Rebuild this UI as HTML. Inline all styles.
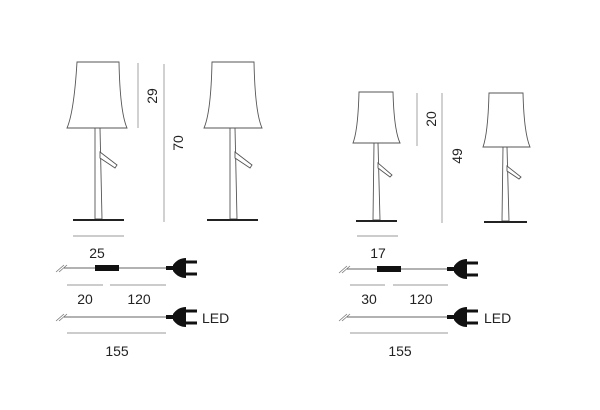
<!DOCTYPE html>
<html><head><meta charset="utf-8"><style>
html,body{margin:0;padding:0;background:#fff;}
svg{display:block;font-family:"Liberation Sans",sans-serif;}
</style></head><body>
<svg width="600" height="410" viewBox="0 0 600 410" xmlns="http://www.w3.org/2000/svg">
<defs>
<g id="plug">
<rect x="-2" y="-2" width="8" height="4" fill="#111"/>
<path d="M5,-3 Q10,-10 18,-10 L18,10 Q10,10 5,3 Z" fill="#111"/>
<rect x="17" y="-7.5" width="12" height="3" fill="#111"/>
<rect x="17" y="4.5" width="12" height="3" fill="#111"/>
</g>
<g id="hatch" stroke="#777" stroke-width="0.8">
<line x1="0" y1="4" x2="8" y2="-3"/><line x1="3" y1="4" x2="11" y2="-3"/>
</g>
</defs>
<g fill="#fff" stroke="#555" stroke-width="0.9">
<path d="M77,62 L119,62 Q120,112 127,128 L67,128 Q74,112 77,62 Z"/>
<path d="M95,128 L100,128 L102,219 L95,219 Z"/>
<path d="M100,152 L117,165 L115,168 L100,158 Z"/>
<path d="M212,62 L254,62 Q255,112 262,128 L204,128 Q211,112 212,62 Z"/>
<path d="M230,128 L235,128 L237,219 L230,219 Z"/>
<path d="M235,152 L252,165 L250,168 L235,158 Z"/>
<path d="M359,92 L393,92 Q394,130 400,143 L353,143 Q358,130 359,92 Z"/>
<path d="M374,143 L378,143 L380,220 L373,220 Z"/>
<path d="M378,163 L392,175 L390,177 L378,168 Z"/>
<path d="M489,93 L523,93 Q524,133 530,147 L483,147 Q488,133 489,93 Z"/>
<path d="M503,147 L507,147 L509,221 L502,221 Z"/>
<path d="M507,166 L521,177 L519,179 L507,171 Z"/>
</g>
<g stroke="#222" stroke-width="2">
<line x1="73" y1="220" x2="124" y2="220"/>
<line x1="207" y1="220" x2="258" y2="220"/>
<line x1="356" y1="221" x2="397" y2="221"/>
<line x1="484" y1="222" x2="527" y2="222"/>
</g>
<g stroke="#999" stroke-width="0.9">
<line x1="73" y1="236" x2="124" y2="236"/>
<line x1="138" y1="63" x2="138" y2="128"/>
<line x1="164" y1="64" x2="164" y2="222"/>
<line x1="357" y1="236" x2="398" y2="236"/>
<line x1="417" y1="93" x2="417" y2="146"/>
<line x1="442" y1="93" x2="442" y2="223"/>
<line x1="67" y1="285" x2="103" y2="285"/>
<line x1="110" y1="285" x2="166" y2="285"/>
<line x1="67" y1="333" x2="166" y2="333"/>
<line x1="350" y1="285" x2="385" y2="285"/>
<line x1="393" y1="285" x2="448" y2="285"/>
<line x1="350" y1="333" x2="448" y2="333"/>
</g>
<g stroke="#666" stroke-width="0.9">
<line x1="64" y1="268" x2="168" y2="268"/>
<line x1="64" y1="317" x2="168" y2="317"/>
<line x1="347" y1="269" x2="449" y2="269"/>
<line x1="347" y1="317" x2="449" y2="317"/>
</g>
<use href="#hatch" x="56" y="268"/>
<use href="#hatch" x="56" y="317"/>
<use href="#hatch" x="339" y="269"/>
<use href="#hatch" x="339" y="317"/>
<rect x="95" y="265" width="24" height="6" fill="#111"/>
<rect x="377" y="266" width="24" height="6" fill="#111"/>
<use href="#plug" x="168" y="268"/>
<use href="#plug" x="168" y="317"/>
<use href="#plug" x="449" y="269"/>
<use href="#plug" x="449" y="317"/>
<g fill="#222" font-size="14">
<text x="97" y="258" text-anchor="middle">25</text>
<text x="85" y="304" text-anchor="middle">20</text>
<text x="139" y="304" text-anchor="middle">120</text>
<text x="117" y="356" text-anchor="middle">155</text>
<text x="202" y="323">LED</text>
<text x="378" y="258" text-anchor="middle">17</text>
<text x="369" y="304" text-anchor="middle">30</text>
<text x="421" y="304" text-anchor="middle">120</text>
<text x="400" y="356" text-anchor="middle">155</text>
<text x="484" y="323">LED</text>
<text transform="translate(157,96) rotate(-90)" text-anchor="middle">29</text>
<text transform="translate(183,143) rotate(-90)" text-anchor="middle">70</text>
<text transform="translate(436,119) rotate(-90)" text-anchor="middle">20</text>
<text transform="translate(462,156) rotate(-90)" text-anchor="middle">49</text>
</g>
</svg>
</body></html>
